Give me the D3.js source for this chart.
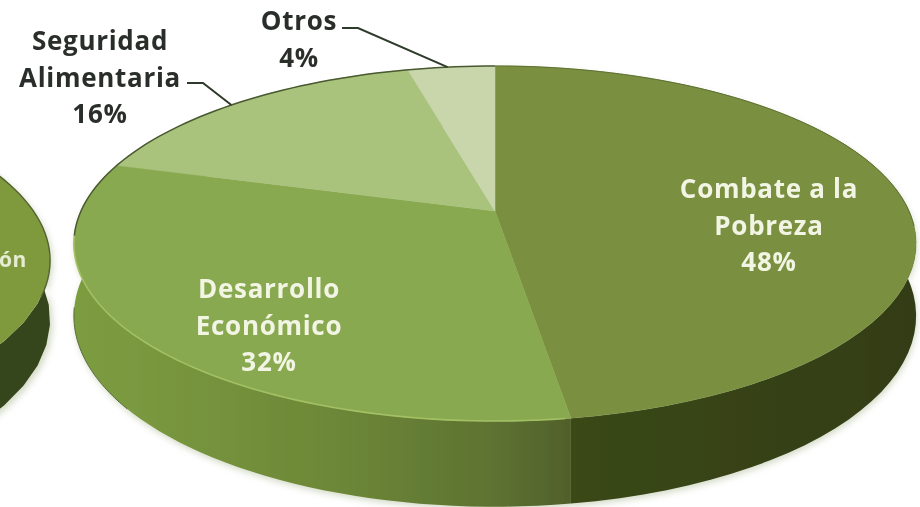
<!DOCTYPE html>
<html>
<head>
<meta charset="utf-8">
<script src="https://cdn.jsdelivr.net/npm/d3@7"></script>
<style>
  html, body { margin: 0; padding: 0; background: #fff; }
  svg { display: block; }
  text { font-family: "Open Sans", sans-serif; font-weight: 700; text-anchor: middle; letter-spacing: 0.7px; }
</style>
</head>
<body>
<svg id="chart" width="920" height="507"></svg>
<script>
const categories = ["Combate a la Pobreza", "Desarrollo Económico", "Seguridad Alimentaria", "Otros"];
// slice sizes, the printed labels are rounded
const shares = [47.6, 31.9, 16.5, 4];
const labelLines = [["Combate a la", "Pobreza", "48%"], ["Desarrollo", "Económico", "32%"], ["Seguridad", "Alimentaria", "16%"], ["Otros", "4%"]];
const faceColors = ["#7a9040", "#88a94f", "#a9c27c", "#c9d6ac"];
const neighbourShares = [100];
const neighbourLabel = "ón";

const svg = d3.select("#chart");
const defs = svg.append("defs");

// the pie is tilted, so the rim goes through a small perspective
const persp = 0.183;
const radius = 414;
const squash = 171.6;
const wallHeight = 70;

function project(cx, cy, angle, drop) {
  let u = Math.sin(angle), v = Math.cos(angle);
  let w = 1 + persp * v;
  return [cx + radius * u / w, cy - squash * v / w + drop * wallHeight / w];
}

const rimAngles = (a0, a1) => d3.range(0, 61).map(i => a0 + (a1 - a0) * i / 60);
const line = d3.line();
const pie = d3.pie().sort(null);
const deg = Math.PI / 180;

function wallPath(cx, cy, d, drop) {
  let top = rimAngles(d.startAngle, d.endAngle).map(a => project(cx, cy, a, 0));
  let bottom = rimAngles(d.endAngle, d.startAngle).map(a => project(cx, cy, a, drop));
  return line(top.concat(bottom)) + "Z";
}

function facePath(cx, cy, d) {
  let rim = rimAngles(d.startAngle, d.endAngle).map(a => project(cx, cy, a, 0));
  return line([[cx, cy]].concat(rim)) + "Z";
}

function rimLine(cx, cy, a0, a1, drop) {
  return line(rimAngles(a0 * deg, a1 * deg).map(a => project(cx, cy, a, drop)));
}

function gradient(id, x1, x2, stops) {
  let g = defs.append("linearGradient").attr("id", id)
    .attr("gradientUnits", "userSpaceOnUse")
    .attr("x1", x1).attr("x2", x2).attr("y1", 0).attr("y2", 0);
  stops.forEach(s => g.append("stop").attr("offset", s[0]).attr("stop-color", s[1]));
}

gradient("wallLeft", 74, 570, [[0, "#7b9c40"], [0.12, "#7a993f"], [0.55, "#6c8637"], [0.85, "#5d7231"], [1, "#50602b"]]);
gradient("wallRight", 570, 917, [[0, "#3a4819"], [1, "#333d19"]]);

defs.append("filter").attr("id", "soft").attr("x", "-10%").attr("y", "-10%").attr("width", "120%").attr("height", "120%")
  .append("feGaussianBlur").attr("stdDeviation", 3);
defs.append("filter").attr("id", "fuzz").attr("x", "-5%").attr("y", "-5%").attr("width", "110%").attr("height", "110%")
  .append("feGaussianBlur").attr("stdDeviation", 0.5);

const wallFills = ["url(#wallRight)", "url(#wallLeft)", "#6f893c", "#6f893c"];
const mainCx = 495, mainCy = 211;
const sideCx = -371, sideCy = 228;
const sideDrop = 0.82;

const chart = svg.append("g").attr("filter", "url(#fuzz)");

// neighbouring pie, cut off by the left edge
const sideArcs = pie(neighbourShares);
svg.insert("g", "g").selectAll("path").data(sideArcs).enter().append("path")
  .attr("d", d => wallPath(sideCx, sideCy, d, sideDrop)).attr("fill", "#b9c4a4")
  .attr("transform", "translate(3,3)").attr("filter", "url(#soft)").attr("opacity", 0.6);
chart.append("g").selectAll("path").data(sideArcs).enter().append("path")
  .attr("d", d => wallPath(sideCx, sideCy, d, sideDrop)).attr("fill", "#36451a");
chart.append("g").selectAll("path").data(sideArcs).enter().append("path")
  .attr("d", d => facePath(sideCx, sideCy, d)).attr("fill", "#7f9a3d");
chart.append("path")
  .attr("d", rimLine(sideCx, sideCy, 0, 112, 0))
  .attr("fill", "none").attr("stroke", "#55632f").attr("stroke-width", 1.4);

// main pie
const arcs = pie(shares);
svg.insert("g", "g").selectAll("path").data(arcs.slice(0, 2)).enter().append("path")
  .attr("d", d => wallPath(mainCx, mainCy, d, 1)).attr("fill", "#b9c4a4")
  .attr("transform", "translate(1,3)").attr("filter", "url(#soft)").attr("opacity", 0.6);
chart.append("g").selectAll("path").data(arcs).enter().append("path")
  .attr("class", "wall")
  .attr("d", d => wallPath(mainCx, mainCy, d, 1))
  .attr("fill", (d, i) => wallFills[i]);
chart.append("g").selectAll("path").data(arcs).enter().append("path")
  .attr("class", "face")
  .attr("d", d => facePath(mainCx, mainCy, d))
  .attr("fill", (d, i) => faceColors[i])
  .attr("stroke", (d, i) => faceColors[i]).attr("stroke-width", 0.5);

// pale highlight on the front rim, dark outline along the back
chart.append("path")
  .attr("d", rimLine(mainCx, mainCy, 172, 262, 0))
  .attr("fill", "none").attr("stroke", "#a3c065").attr("stroke-width", 1.6);
chart.append("path")
  .attr("d", rimLine(mainCx, mainCy, 262, 360, 0))
  .attr("fill", "none").attr("stroke", "#4a5a30").attr("stroke-width", 1.5);
chart.append("path")
  .attr("d", rimLine(mainCx, mainCy, 0, 95, 0))
  .attr("fill", "none").attr("stroke", "#5f7034").attr("stroke-width", 1);
chart.append("path")
  .attr("d", rimLine(mainCx, mainCy, 232, 262, 1))
  .attr("fill", "none").attr("stroke", "#56663a").attr("stroke-width", 1);

// leader lines
const leaders = [
  { from: [187, 83], knee: [203, 83], slice: 2, at: 0.47 },
  { from: [342, 28], knee: [358, 28], slice: 3, at: 0.46 }
];
chart.append("g").selectAll("path").data(leaders).enter().append("path")
  .attr("d", d => {
    let a = arcs[d.slice];
    let end = project(mainCx, mainCy, a.startAngle + (a.endAngle - a.startAngle) * d.at, 0);
    return line([d.from, d.knee, end]);
  })
  .attr("fill", "none").attr("stroke", "#2f3a2a").attr("stroke-width", 2);

// labels
const labelSpots = [
  { x: 769, y: 198, fill: "#f2f5e4" },
  { x: 269, y: 298, fill: "#f2f5e4" },
  { x: 100, y: 50, fill: "#2b2f2a" },
  { x: 299, y: 30, fill: "#2b2f2a" }
];
const labelGap = 36.5;
const labels = svg.append("g").attr("filter", "url(#fuzz)");
categories.forEach((c, i) => {
  let spot = labelSpots[i];
  labels.append("text")
    .attr("fill", spot.fill)
    .attr("font-size", 26)
    .selectAll("tspan").data(labelLines[i]).enter().append("tspan")
    .attr("x", spot.x)
    .attr("y", (d, j) => spot.y + j * labelGap)
    .text(d => d);
});
labels.append("text")
  .attr("x", 13).attr("y", 267)
  .attr("fill", "#e6ecd2").attr("font-size", 21)
  .text(neighbourLabel);
</script>
</body>
</html>
